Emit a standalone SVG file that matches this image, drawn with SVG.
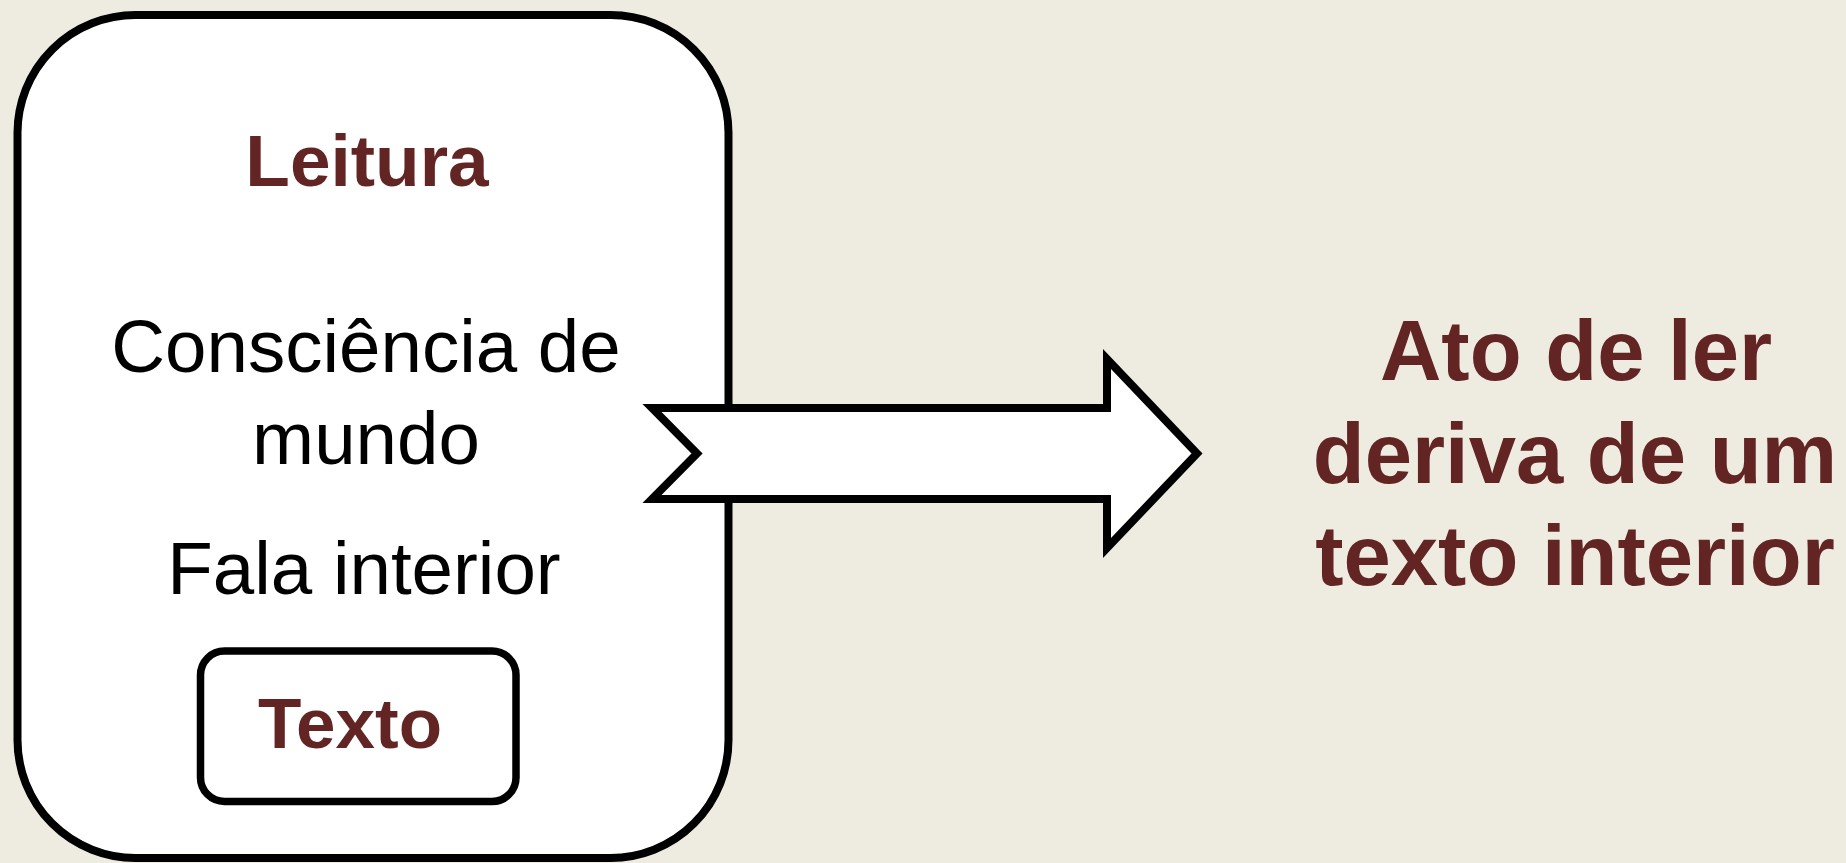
<svg xmlns="http://www.w3.org/2000/svg" width="1846" height="863" viewBox="0 0 1846 863">
  <style>
    .box { fill: #FFFFFF; stroke: #000000; stroke-width: 8; }
    .reg { font-family: "Liberation Sans", Arial, sans-serif; fill: #000000; text-anchor: middle; }
    .bold { font-family: "Liberation Sans", Arial, sans-serif; font-weight: bold; fill: #632523; text-anchor: middle; }
  </style>
  <rect x="0" y="0" width="1846" height="863" fill="#EEECE1"/>
  <g id="leitura">
    <rect class="box" x="17.5" y="15" width="711" height="843" rx="118" ry="118"/>
    <text class="bold" x="367" y="186" font-size="73">Leitura</text>
    <text class="reg" x="366" y="372" font-size="74.5">Consciência de</text>
    <text class="reg" x="366" y="464" font-size="74.5">mundo</text>
    <text class="reg" x="364" y="594" font-size="74.5">Fala interior</text>
  </g>
  <g id="texto">
    <rect class="box" x="200.5" y="651" width="315.5" height="150.5" rx="24" ry="24" style="stroke-width:7.5"/>
    <text class="bold" x="350" y="748" font-size="71">Texto</text>
  </g>
  <g id="connectors">
    <polygon class="box" stroke-linejoin="miter" stroke-miterlimit="10" points="652,408 1107,408 1107,359 1197,453.5 1107,548 1107,499 652,499 697,453.5"/>
  </g>
  <g id="resultado">
    <text class="bold" x="1576" y="380" font-size="85">Ato de ler</text>
    <text class="bold" x="1575" y="482.5" font-size="85">deriva de um</text>
    <text class="bold" x="1575" y="585" font-size="85">texto interior</text>
  </g>
</svg>
